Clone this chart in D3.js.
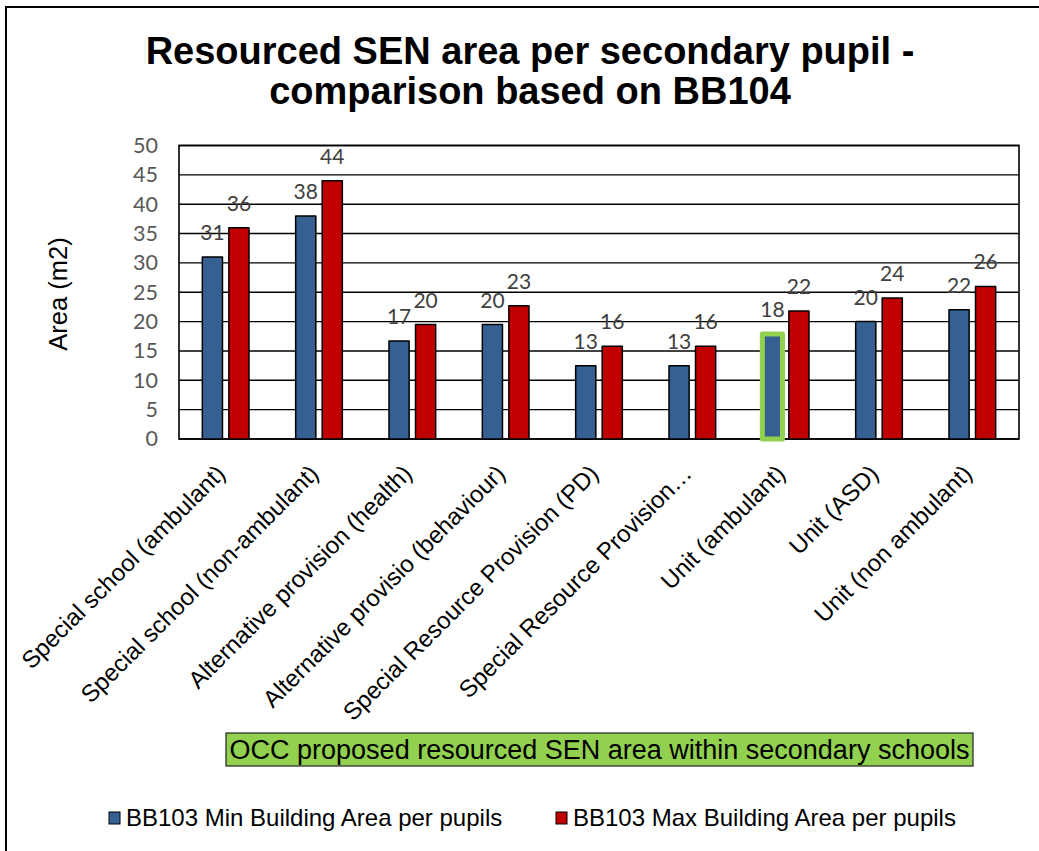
<!DOCTYPE html>
<html>
<head>
<meta charset="utf-8">
<script src="https://cdn.jsdelivr.net/npm/d3@7"></script>
<style>
  body { margin: 0; background: #fff; }
</style>
</head>
<body>
<script>
// Resourced SEN area per secondary pupil - grouped bars, min vs max

const categories = [
    "Special school (ambulant)",
    "Special school (non-ambulant)",
    "Alternative provision (health)",
    "Alternative provisio (behaviour)",
    "Special Resource Provision (PD)",
    "Special Resource Provision\u2026",
    "Unit (ambulant)",
    "Unit (ASD)",
    "Unit (non ambulant)"
];
const minArea = [31, 38, 16.7, 19.5, 12.5, 12.5, 17.9, 20, 22];
const maxArea = [36, 44, 19.5, 22.7, 15.8, 15.8, 21.8, 24, 26];
const seriesNames = ["BB103 Min Building Area per pupils", "BB103 Max Building Area per pupils"];
const yTicks = [0, 5, 10, 15, 20, 25, 30, 35, 40, 45, 50];
const highlighted = "Unit (ambulant)"; // the OCC proposed one
const noteText = "OCC proposed resourced SEN area within secondary schools";

const width = 1039;
const height = 851;
const colors = ["#376092", "#C00000"];

const svg = d3.select("body")
    .append("svg")
    .attr("width", width)
    .attr("height", height);

// outer chart border (runs off the right/bottom edge)
svg.append("rect")
    .attr("x", 6).attr("y", 7)
    .attr("width", 1100).attr("height", 900)
    .attr("fill", "none")
    .attr("stroke", "#000")
    .attr("stroke-width", 2);

// plot area
const plotLeft = 179, plotRight = 1019, plotTop = 145.5, plotBottom = 439;

const x0 = d3.scaleBand()
    .domain(categories)
    .range([plotLeft, plotRight])
    .paddingInner(0.5)
    .paddingOuter(0.25);

const x1 = d3.scaleBand()
    .domain([0, 1])
    .range([0, x0.bandwidth()])
    .paddingInner(0.24);

const y = d3.scaleLinear()
    .domain([0, 50])
    .range([plotBottom, plotTop]);

// gridlines
svg.append("g")
    .selectAll("line")
    .data(yTicks)
    .join("line")
    .attr("x1", plotLeft).attr("x2", plotRight)
    .attr("y1", d => y(d)).attr("y2", d => y(d))
    .attr("stroke", "#000")
    .attr("stroke-width", 1.4);

svg.append("rect")
    .attr("x", plotLeft).attr("y", plotTop)
    .attr("width", plotRight - plotLeft).attr("height", plotBottom - plotTop)
    .attr("fill", "none")
    .attr("stroke", "#000")
    .attr("stroke-width", 1.6);

// y tick labels
const yAxis = svg.append("g")
    .attr("transform", `translate(${plotLeft},0)`)
    .call(d3.axisLeft(y).tickValues(yTicks).tickSize(0).tickPadding(21));
yAxis.select(".domain").remove();
yAxis.selectAll("text")
    .attr("font-family", "Lato, 'Open Sans', sans-serif")
    .attr("font-size", 21.5)
    .attr("fill", "#595959");

// y title
svg.append("text")
    .attr("transform", "translate(67,294) rotate(-90)")
    .attr("text-anchor", "middle")
    .attr("font-family", "'Liberation Sans', Arial, sans-serif")
    .attr("font-size", 25.5)
    .attr("fill", "#000")
    .text("Area (m2)");

// bars
const rows = categories.map((c, i) => ({ cat: c, vals: [minArea[i], maxArea[i]] }));

const groups = svg.append("g")
    .selectAll("g")
    .data(rows)
    .join("g")
    .attr("transform", d => `translate(${x0(d.cat)},0)`);

groups.selectAll("rect")
    .data(d => d.vals.map((v, k) => ({ cat: d.cat, k: k, v: v })))
    .join("rect")
    .attr("x", d => x1(d.k))
    .attr("y", d => y(d.v))
    .attr("width", x1.bandwidth())
    .attr("height", d => y(0) - y(d.v))
    .attr("fill", d => colors[d.k])
    .attr("stroke", d => (d.cat === highlighted && d.k === 0) ? "#92D050" : "#000")
    .attr("stroke-width", d => (d.cat === highlighted && d.k === 0) ? 5 : 1.5)
    .attr("stroke-linejoin", "round");

// data labels
groups.selectAll("text")
    .data(d => d.vals.map((v, k) => ({ k: k, v: v })))
    .join("text")
    .attr("x", d => x1(d.k) + x1.bandwidth() / 2)
    .attr("y", d => y(d.v) - 17)
    .attr("text-anchor", "middle")
    .attr("font-family", "Lato, 'Open Sans', sans-serif")
    .attr("font-size", 21)
    .attr("fill", "#404040")
    .text(d => Math.round(d.v));

// x labels, rotated
svg.append("g")
    .selectAll("text")
    .data(categories)
    .join("text")
    .attr("transform", d => `translate(${x0(d) + x0.bandwidth() / 2 + 1},475) rotate(-45)`)
    .attr("text-anchor", "end")
    .attr("font-family", "'Liberation Sans', Arial, sans-serif")
    .attr("font-size", 24)
    .attr("fill", "#000")
    .text(d => d);

// green note box
svg.append("rect")
    .attr("x", 226).attr("y", 733)
    .attr("width", 747).attr("height", 33)
    .attr("fill", "#92D050")
    .attr("stroke", "#222")
    .attr("stroke-width", 1.2);

svg.append("text")
    .attr("x", 599.5).attr("y", 759)
    .attr("text-anchor", "middle")
    .attr("font-family", "'Liberation Sans', Arial, sans-serif")
    .attr("font-size", 27)
    .attr("fill", "#000")
    .text(noteText);

// legend
const legendX = [109, 556];
const legend = svg.append("g")
    .selectAll("g")
    .data(seriesNames)
    .join("g")
    .attr("transform", (d, i) => `translate(${legendX[i]},812)`);

legend.append("rect")
    .attr("width", 11).attr("height", 12)
    .attr("fill", (d, i) => colors[i])
    .attr("stroke", "#000")
    .attr("stroke-width", 1);

legend.append("text")
    .attr("x", 17).attr("y", 13.5)
    .attr("font-family", "'Liberation Sans', Arial, sans-serif")
    .attr("font-size", 24)
    .attr("fill", "#000")
    .text(d => d);

// title
const titleLines = ["Resourced SEN area per secondary pupil -", "comparison based on BB104"];
svg.append("g")
    .selectAll("text")
    .data(titleLines)
    .join("text")
    .attr("x", 530)
    .attr("y", (d, i) => 64 + i * 40)
    .attr("text-anchor", "middle")
    .attr("font-family", "'Liberation Sans', Arial, sans-serif")
    .attr("font-weight", "bold")
    .attr("font-size", 38)
    .attr("fill", "#000")
    .text(d => d);
</script>
</body>
</html>
